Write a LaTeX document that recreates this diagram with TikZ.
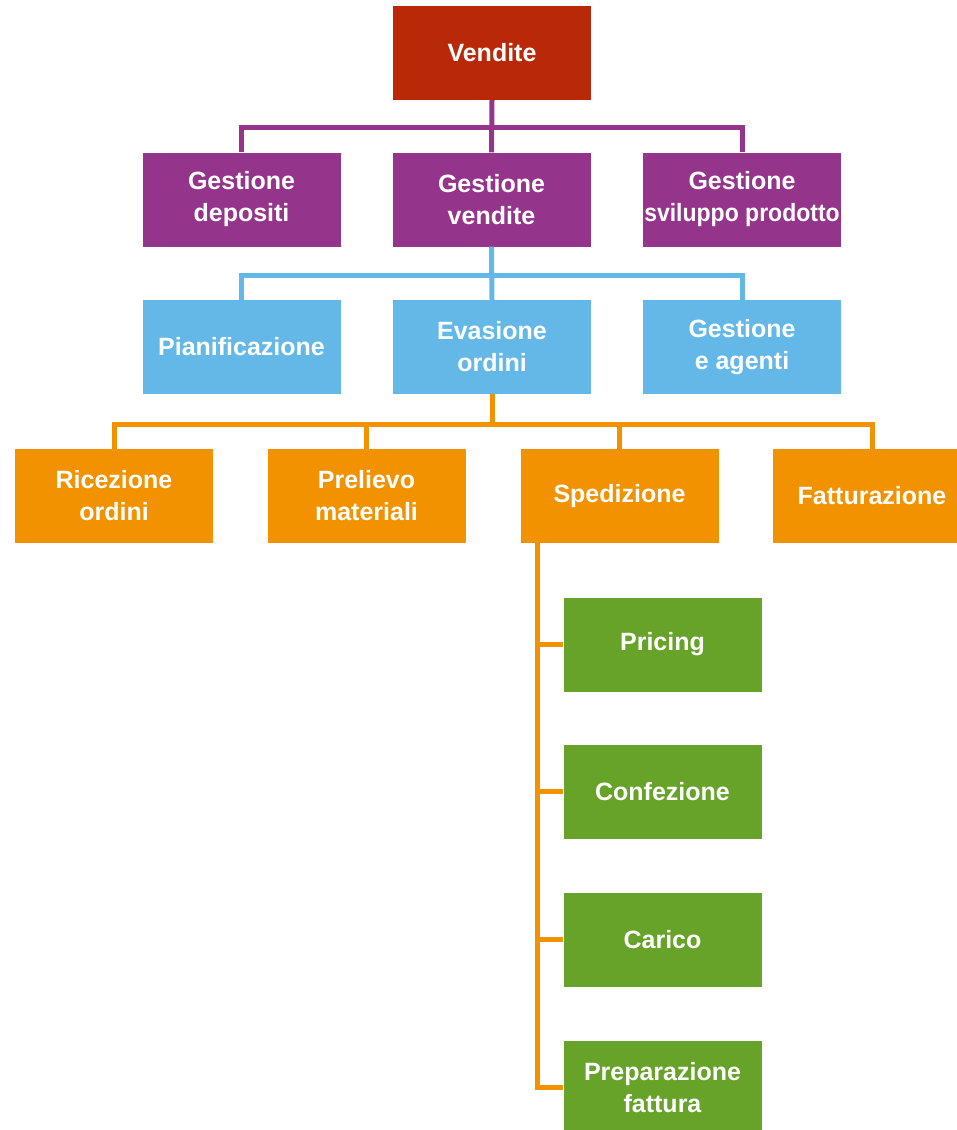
\documentclass[tikz,border=0pt]{standalone}
\usepackage{fontspec}
\setmainfont{Liberation Sans}
\definecolor{vred}{RGB}{185,41,8}
\definecolor{vpurple}{RGB}{148,53,139}
\definecolor{vblue}{RGB}{99,184,231}
\definecolor{vorange}{RGB}{242,146,0}
\definecolor{vgreen}{RGB}{104,163,41}

\begin{document}
\begin{tikzpicture}[x=1pt,y=-1pt,
  box/.style={rectangle,minimum width=198pt,minimum height=94pt,inner sep=0pt,
    align=center,text=white,font=\bfseries\fontsize{25}{32}\selectfont},
  conn/.style={line width=5pt}]
\useasboundingbox (0,0) rectangle (957,1130);
\node[box,fill=vred] (vend) at (492,53) {Vendite};
% second level
\node[box,fill=vpurple] (dep) at (241.5,199.5) {Gestione\\depositi};
\node[box,fill=vpurple] (gven) at (491.5,199.5) {Gestione\\vendite};
\node[box,fill=vpurple] (svil) at (742,199.5) {Gestione\\\scalebox{0.92}[1]{sviluppo prodotto}};
\draw[conn,vpurple] (dep.north) -- ++(0,-25) -| (svil.north);
\draw[conn,vpurple] (vend.south) -- (gven.north);
% third level
\node[box,fill=vblue] (pian) at (241.5,347) {Pianificazione};
\node[box,fill=vblue] (evas) at (492,347) {Evasione\\ordini};
\node[box,fill=vblue] (agen) at (742,347) {Gestione\\e agenti};
\draw[conn,vblue] (pian.north) -- ++(0,-24) -| (agen.north);
\draw[conn,vblue] (gven.south) -- (evas.north);
% fourth level
\node[box,fill=vorange] (ric) at (114,496) {Ricezione\\ordini};
\node[box,fill=vorange] (prel) at (366.5,496) {Prelievo\\materiali};
\node[box,fill=vorange] (sped) at (619.5,496) {Spedizione};
\node[box,fill=vorange] (fatt) at (872,496) {Fatturazione};
\draw[conn,vorange] (ric.north) -- ++(0,-24) -| (fatt.north);
\draw[conn,vorange] (evas.south) -- ++(0,31);
\draw[conn,vorange] (prel.north) -- ++(0,-24);
\draw[conn,vorange] (sped.north) -- ++(0,-24);
% spedizione steps
\node[box,fill=vgreen] (pric) at (662.5,644.5) {Pricing};
\node[box,fill=vgreen] (conf) at (662.5,791.5) {Confezione};
\node[box,fill=vgreen] (car) at (662.5,939.5) {Carico};
\node[box,fill=vgreen] (prep) at (662.5,1087.5) {Preparazione\\fattura};
\coordinate (spine) at (537,543);
\draw[conn,vorange] (spine) |- (prep.west);
\draw[conn,vorange] (pric.west) -- (pric.west -| spine);
\draw[conn,vorange] (conf.west) -- (conf.west -| spine);
\draw[conn,vorange] (car.west) -- (car.west -| spine);
\end{tikzpicture}
\end{document}
